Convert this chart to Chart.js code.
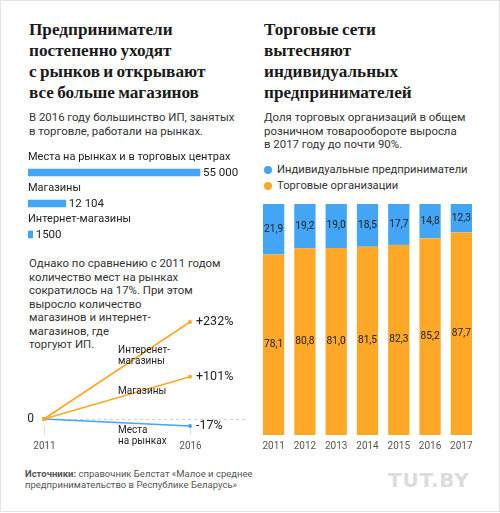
<!DOCTYPE html>
<html>
<head>
<meta charset="utf-8">
<script src="https://cdn.jsdelivr.net/npm/chart.js@4.4.1/dist/chart.umd.min.js"></script>
<style>
  body { margin: 0; background: #fff; font-family: Roboto, sans-serif; color: #333; }
  #page { position: relative; width: 500px; height: 513px; overflow: hidden; }
  #frame { position: absolute; left: 0; top: 0; width: 498px; height: 510px; border: 1px solid #e3e3e3; }
  .title { position: absolute; font-family: "Liberation Serif", serif; font-weight: bold; font-size: 17.2px; line-height: 21px; word-spacing: -1px; color: #1a1a1a; white-space: nowrap; }
  .text { position: absolute; font-size: 11.4px; line-height: 13.5px; color: #333; white-space: nowrap; }
  .legend { position: absolute; font-size: 11.2px; color: #333; white-space: nowrap; }
  .dot { display: inline-block; width: 8px; height: 8px; border-radius: 50%; margin-right: 5px; vertical-align: -0.5px; }
  .src { position: absolute; left: 25px; top: 469px; font-size: 9.5px; line-height: 10.5px; color: #555; white-space: nowrap; }
  .logo { position: absolute; left: 388px; top: 468px; font-family: "DejaVu Sans", sans-serif; font-weight: bold; font-size: 20px; letter-spacing: 0.8px; color: #dcdcdc; }
  canvas { position: absolute; }
</style>
</head>
<body>
<div id="page">
  <div id="frame"></div>

  <div class="title" style="left:29px; top:19px;">Предприниматели<br>постепенно уходят<br>с рынков и открывают<br>все больше магазинов</div>
  <div class="text" style="left:29px; top:111px;">В 2016 году большинство ИП, занятых<br>в торговле, работали на рынках.</div>
  <canvas id="places" width="222" height="105" style="left:28px; top:145px;"></canvas>
  <div class="text" style="left:29px; top:257px;">Однако по сравнению с 2011 годом<br>количество мест на рынках<br>сократилось на 17%. При этом<br>выросло количество<br>магазинов и интернет-<br>магазинов, где<br>торгуют ИП.</div>
  <canvas id="change" width="250" height="170" style="left:0; top:290px;"></canvas>

  <div class="title" style="left:264px; top:19px;">Торговые сети<br>вытесняют<br>индивидуальных<br>предпринимателей</div>
  <div class="text" style="left:264px; top:111px;">Доля торговых организаций в общем<br>розничном товарообороте выросла<br>в 2017 году до почти 90%.</div>
  <div class="legend" style="left:264px; top:163px;"><span class="dot" style="background:#42a5f5"></span>Индивидуальные предприниматели</div>
  <div class="legend" style="left:264px; top:179px;"><span class="dot" style="background:#ffa726"></span>Торговые организации</div>
  <canvas id="share" width="250" height="262" style="left:250px; top:195px;"></canvas>

  <div class="src"><b>Источники:</b> справочник Белстат «Малое и среднее<br>предпринимательство в Республике Беларусь»</div>
  <div class="logo">TUT.BY</div>
</div>

<script>
// places where individual entrepreneurs trade, 2016
const placeLabels = ['Места на рынках и в торговых центрах', 'Магазины', 'Интернет-магазины'];
const placeCounts = [55000, 12104, 1500];
const placeValueText = ['55 000', '12 104', '1500'];

// change 2011 -> 2016, %
const changeYears = ['2011', '2016'];
const onlineChange = [0, 232];
const shopChange = [0, 101];
const marketChange = [0, -17];

// share of retail turnover, %
const years = ['2011', '2012', '2013', '2014', '2015', '2016', '2017'];
const ipShare = [21.9, 19.2, 19.0, 18.5, 17.7, 14.8, 12.3];
const orgShare = [78.1, 80.8, 81.0, 81.5, 82.3, 85.2, 87.7];

const BLUE = '#42a5f5';
const ORANGE = '#ffa726';
const FONT = 'Roboto, sans-serif';

Chart.defaults.font.family = FONT;
Chart.defaults.animation = false;

// horizontal bars with caption above and value to the right
new Chart(document.getElementById('places'), {
    type: 'bar',
    data: {
        labels: placeLabels,
        datasets: [{
            data: placeCounts,
            backgroundColor: BLUE,
            barThickness: 7,
            categoryPercentage: 1
        }]
    },
    options: {
        indexAxis: 'y',
        responsive: false,
        layout: { padding: { top: 12 } },
        scales: {
            x: { display: false, min: 0, max: 71000 },
            y: { display: false }
        },
        plugins: { legend: { display: false }, tooltip: { enabled: false } }
    },
    plugins: [{
        id: 'placeText',
        afterDatasetsDraw(chart) {
            const ctx = chart.ctx;
            ctx.save();
            ctx.fillStyle = '#222';
            ctx.textBaseline = 'middle';
            chart.getDatasetMeta(0).data.forEach((bar, i) => {
                ctx.font = '11px ' + FONT;
                ctx.fillText(placeLabels[i], chart.chartArea.left, bar.y - 15);
                ctx.font = '11.5px ' + FONT;
                ctx.fillText(placeValueText[i], bar.x + 3, bar.y + 0.5);
            });
            ctx.restore();
        }
    }]
});

// change lines
const changeNotes = [
    { lines: ['Интеренет-', 'магазины'], dy: -20 },
    { lines: ['Магазины'], dy: -6 },
    { lines: ['Места', 'на рынках'], dy: 8 }
];
new Chart(document.getElementById('change'), {
    type: 'line',
    data: {
        labels: changeYears,
        datasets: [
            { data: onlineChange, borderColor: ORANGE, backgroundColor: ORANGE },
            { data: shopChange, borderColor: ORANGE, backgroundColor: ORANGE },
            { data: marketChange, borderColor: BLUE, backgroundColor: BLUE }
        ].map(d => Object.assign(d, { borderWidth: 1.6, pointRadius: 2, pointBorderWidth: 0, tension: 0 }))
    },
    options: {
        responsive: false,
        layout: { padding: { left: 44, right: 60, top: 24.5, bottom: 28.5 } },
        scales: {
            x: { display: false, offset: false },
            y: { display: false, min: -30, max: 250 }
        },
        plugins: { legend: { display: false }, tooltip: { enabled: false } }
    },
    plugins: [{
        id: 'changeAxis',
        beforeDatasetsDraw(chart) {
            const ctx = chart.ctx;
            const y0 = chart.scales.y.getPixelForValue(0);
            const xs = chart.scales.x;
            ctx.save();
            ctx.strokeStyle = '#cfcfcf';
            ctx.lineWidth = 1;
            ctx.setLineDash([3, 3]);
            ctx.beginPath();
            ctx.moveTo(chart.chartArea.left, y0 + 0.5);
            ctx.lineTo(chart.width - 5, y0 + 0.5);
            ctx.stroke();
            ctx.setLineDash([]);
            ctx.strokeStyle = '#dedede';
            ctx.font = '10px ' + FONT;
            ctx.fillStyle = '#555';
            ctx.textAlign = 'center';
            ctx.textBaseline = 'middle';
            changeYears.forEach((yr, i) => {
                const x = Math.round(xs.getPixelForValue(i)) + 0.5;
                ctx.beginPath();
                ctx.moveTo(x, y0 + 7);
                ctx.lineTo(x, y0 + 16);
                ctx.stroke();
                ctx.fillText(yr, x, y0 + 28);
            });
            ctx.font = '12px ' + FONT;
            ctx.fillStyle = '#222';
            ctx.textAlign = 'right';
            ctx.fillText('0', chart.chartArea.left - 10, y0);
            ctx.restore();
        },
        afterDatasetsDraw(chart) {
            const ctx = chart.ctx;
            ctx.save();
            ctx.fillStyle = '#222';
            ctx.textBaseline = 'middle';
            chart.data.datasets.forEach((ds, i) => {
                const pts = chart.getDatasetMeta(i).data;
                const last = pts[pts.length - 1];
                const v = ds.data[ds.data.length - 1];
                ctx.font = '12.5px ' + FONT;
                ctx.fillText((v > 0 ? '+' : '') + v + '%', last.x + 6, last.y);
                const note = changeNotes[i];
                const mx = (pts[0].x + last.x) / 2;
                const my = (pts[0].y + last.y) / 2;
                ctx.font = '10px ' + FONT;
                note.lines.forEach((t, k) => ctx.fillText(t, mx + 1, my + note.dy + k * 11));
            });
            ctx.restore();
        }
    }]
});

// stacked share bars
const fmt = v => v.toFixed(1).replace('.', ',');
new Chart(document.getElementById('share'), {
    type: 'bar',
    data: {
        labels: years,
        datasets: [
            { label: 'Торговые организации', data: orgShare, backgroundColor: ORANGE },
            { label: 'Индивидуальные предприниматели', data: ipShare, backgroundColor: BLUE }
        ]
    },
    options: {
        responsive: false,
        layout: { padding: { top: 9, left: 8, right: 23 } },
        datasets: { bar: { categoryPercentage: 1, barPercentage: 0.68 } },
        scales: {
            x: {
                stacked: true,
                grid: { display: false, drawTicks: false },
                border: { display: false },
                ticks: { color: '#555', font: { size: 10 }, padding: 5 }
            },
            y: { stacked: true, display: false, min: 0, max: 100 }
        },
        plugins: { legend: { display: false }, tooltip: { enabled: false } }
    },
    plugins: [{
        id: 'shareText',
        afterDatasetsDraw(chart) {
            const ctx = chart.ctx;
            ctx.save();
            ctx.font = '10.2px ' + FONT;
            ctx.fillStyle = '#222';
            ctx.textAlign = 'center';
            ctx.textBaseline = 'middle';
            chart.data.datasets.forEach((ds, i) => {
                chart.getDatasetMeta(i).data.forEach((bar, j) => {
                    ctx.fillText(fmt(ds.data[j]), bar.x, (bar.y + bar.base) / 2);
                });
            });
            ctx.restore();
        }
    }]
});
</script>
</body>
</html>
